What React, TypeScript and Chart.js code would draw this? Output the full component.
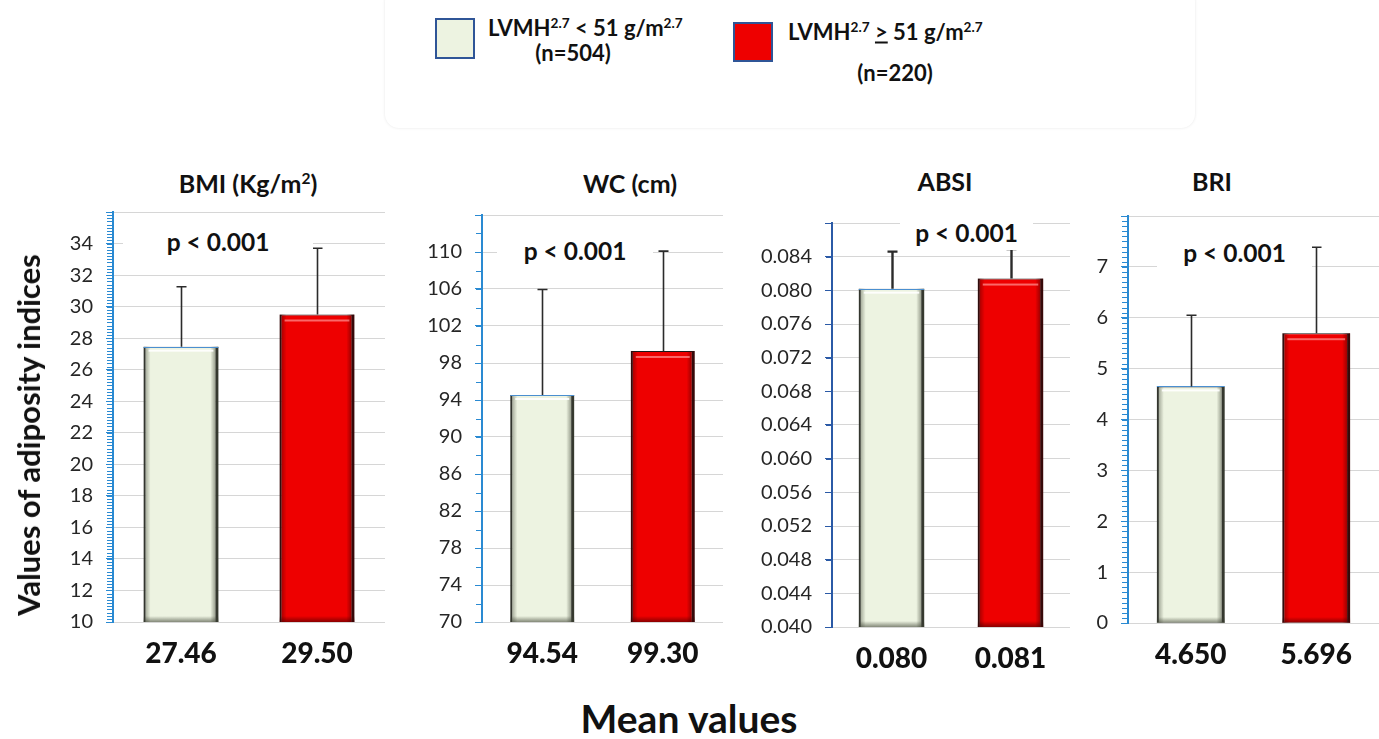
import React, { useEffect, useRef } from "react";
import { Chart, registerables } from "chart.js";

Chart.register(...registerables);

// ---------------- DATA ----------------
const groupLabels = ["LVMH2.7 < 51 g/m2.7 (n=504)", "LVMH2.7 ≥ 51 g/m2.7 (n=220)"];
const panelTitles = ["BMI (Kg/m²)", "WC (cm)", "ABSI", "BRI"];
const pValueLabels = ["p < 0.001", "p < 0.001", "p < 0.001", "p < 0.001"];

const bmiMeans = [27.46, 29.5];
const bmiSD = [3.8, 4.2];
const wcMeans = [94.54, 99.3];
const wcSD = [11.4, 10.8];
const absiMeans = [0.0802, 0.0814];
const absiSD = [0.0044, 0.0035];
const briMeans = [4.65, 5.696];
const briSD = [1.4, 1.69];

const bmiTicks = [10, 12, 14, 16, 18, 20, 22, 24, 26, 28, 30, 32, 34];
const wcTicks = [70, 74, 78, 82, 86, 90, 94, 98, 102, 106, 110];
const absiTicks = [0.04, 0.044, 0.048, 0.052, 0.056, 0.06, 0.064, 0.068, 0.072, 0.076, 0.08, 0.084];
const briTicks = [0, 1, 2, 3, 4, 5, 6, 7];

const bmiMax = 36;
const wcMax = 114;
const absiMax = 0.088;
const briMax = 8;

const bmiMinorStep = 0.2;
const wcMinorStep = 2;
const absiMinorStep = 0.004;
const briMinorStep = 0.1;

const tickDecimals = [0, 0, 3, 0];
const meanDecimals = [2, 2, 3, 3];

// ---------------- LAYOUT / STYLE ----------------
const FONT = "Lato, 'Open Sans', 'DejaVu Sans', sans-serif";
const LIGHT = "#edf3e1";
const RED = "#ee0000";

type Geo = { l: number; r: number; t: number; b: number; yW: number; xH: number; barPct: number; axis: string; err: number };
const geos: Geo[] = [
  { l: 113, r: 385, t: 212, b: 622, yW: 70, xH: 70, barPct: 0.55, axis: "#2a8ad2", err: 1.6 },
  { l: 482, r: 723, t: 215, b: 622, yW: 70, xH: 70, barPct: 0.53, axis: "#2a8ad2", err: 1.6 },
  { l: 832, r: 1070, t: 223, b: 627, yW: 76, xH: 65, barPct: 0.55, axis: "#2b5aa6", err: 2.4 },
  { l: 1128, r: 1379, t: 216, b: 623, yW: 46, xH: 69, barPct: 0.54, axis: "#2a8ad2", err: 1.6 },
];
const TOPPAD = 12;

const titleBoxes = [
  { x: 137, y: 150, w: 221, h: 55, cx: 248, cy: 183 },
  { x: 452, y: 150, w: 356, h: 52, cx: 630, cy: 183 },
  { x: 849, y: 150, w: 192, h: 55, cx: 945, cy: 181 },
  { x: 1108, y: 150, w: 210, h: 55, cx: 1212, cy: 181 },
];
const pBoxes = [
  { x: 123, y: 214, w: 190, h: 48, cy: 241 },
  { x: 497, y: 227, w: 156, h: 48, cy: 250 },
  { x: 900, y: 212, w: 133, h: 38, cy: 232 },
  { x: 1157, y: 223, w: 155, h: 55, cy: 252 },
];

const panels = [
  { means: bmiMeans, sd: bmiSD, ticks: bmiTicks, max: bmiMax, minor: bmiMinorStep },
  { means: wcMeans, sd: wcSD, ticks: wcTicks, max: wcMax, minor: wcMinorStep },
  { means: absiMeans, sd: absiSD, ticks: absiTicks, max: absiMax, minor: absiMinorStep },
  { means: briMeans, sd: briSD, ticks: briTicks, max: briMax, minor: briMinorStep },
];

// ---------------- PLUGINS ----------------
const bevelPlugin = {
  id: "bevel",
  afterDatasetsDraw(chart: any) {
    const ctx = chart.ctx;
    const area = chart.chartArea;
    const meta = chart.getDatasetMeta(0);
    ctx.save();
    ctx.beginPath();
    ctx.rect(area.left, area.top, area.right - area.left, area.bottom - area.top);
    ctx.clip();
    meta.data.forEach((bar: any, i: number) => {
      const { x, y, width } = bar.getProps(["x", "y", "width"], true);
      const l = x - width / 2;
      const r = x + width / 2;
      const t = y;
      const b = area.bottom;
      const dark = i === 0 ? "rgba(60,65,50," : "rgba(70,0,0,";
      let g = ctx.createLinearGradient(l, 0, l + 7, 0);
      g.addColorStop(0, dark + "0.55)");
      g.addColorStop(1, dark + "0)");
      ctx.fillStyle = g;
      ctx.fillRect(l, t, 7, b - t);
      g = ctx.createLinearGradient(r, 0, r - 8, 0);
      g.addColorStop(0, dark + "0.75)");
      g.addColorStop(1, dark + "0)");
      ctx.fillStyle = g;
      ctx.fillRect(r - 8, t, 8, b - t);
      g = ctx.createLinearGradient(0, b, 0, b - 6);
      g.addColorStop(0, dark + "0.6)");
      g.addColorStop(1, dark + "0)");
      ctx.fillStyle = g;
      ctx.fillRect(l, b - 6, r - l, 6);
      ctx.fillStyle = i === 0 ? "rgba(255,255,255,0.9)" : "rgba(255,150,150,0.7)";
      ctx.fillRect(l + 5, t + (i === 0 ? 3 : 5), r - l - 10, 2);
      if (i === 0) {
        ctx.strokeStyle = "#4a8fd0";
        ctx.lineWidth = 1;
        ctx.beginPath();
        ctx.moveTo(l, Math.round(t) + 0.5);
        ctx.lineTo(r, Math.round(t) + 0.5);
        ctx.stroke();
      }
    });
    ctx.restore();
  },
};

const errorBarPlugin = {
  id: "errorBars",
  afterDatasetsDraw(chart: any, _a: any, opts: any) {
    const sd: number[] = opts.sd || [];
    const ctx = chart.ctx;
    const ys = chart.scales.y;
    const meta = chart.getDatasetMeta(0);
    const data = chart.data.datasets[0].data as number[];
    ctx.save();
    ctx.strokeStyle = "#2b2b2b";
    ctx.lineWidth = opts.width || 1.6;
    meta.data.forEach((bar: any, i: number) => {
      const { x, y } = bar.getProps(["x", "y"], true);
      const top = ys.getPixelForValue(data[i] + sd[i]);
      const px = Math.round(x) + 0.5;
      ctx.beginPath();
      ctx.moveTo(px, y);
      ctx.lineTo(px, top);
      ctx.moveTo(px - 5, top);
      ctx.lineTo(px + 5, top);
      ctx.stroke();
    });
    ctx.restore();
  },
};

const minorTickPlugin = {
  id: "minorTicks",
  afterDraw(chart: any, _a: any, opts: any) {
    const step: number = opts.step;
    if (!step) return;
    const ys = chart.scales.y;
    const ctx = chart.ctx;
    const x0 = chart.chartArea.left;
    const n = Math.round((ys.max - ys.min) / step);
    ctx.save();
    ctx.strokeStyle = opts.color;
    ctx.lineWidth = 1;
    for (let i = 0; i <= n; i++) {
      const v = ys.min + i * step;
      const py = Math.round(ys.getPixelForValue(v)) + 0.5;
      ctx.beginPath();
      ctx.moveTo(x0 - 6, py);
      ctx.lineTo(x0, py);
      ctx.stroke();
    }
    ctx.restore();
  },
};

function Panel({ idx }: { idx: number }) {
  const ref = useRef<HTMLCanvasElement | null>(null);
  const g = geos[idx];
  const p = panels[idx];
  const left = g.l - g.yW;
  const top = g.t - TOPPAD;
  const width = g.r - left;
  const height = g.b + g.xH - top;

  useEffect(() => {
    if (!ref.current) return;
    const labels = p.means.map((m) => m.toFixed(meanDecimals[idx]));
    const chart = new Chart(ref.current, {
      type: "bar",
      data: {
        labels,
        datasets: [
          {
            label: panelTitles[idx],
            data: p.means,
            backgroundColor: [LIGHT, RED],
            borderColor: ["#2a2a2a", "#1a1a1a"],
            borderWidth: { left: 2, right: 3, top: 1, bottom: 0 } as any,
            borderSkipped: false,
            barPercentage: g.barPct,
            categoryPercentage: 1,
          },
        ],
      },
      options: {
        responsive: false,
        maintainAspectRatio: false,
        animation: false,
        devicePixelRatio: 1,
        layout: { padding: { top: TOPPAD, right: 0, left: 0, bottom: 0 } },
        plugins: {
          legend: { display: false },
          tooltip: { enabled: false },
          title: { display: false },
          errorBars: { sd: p.sd, width: g.err },
          minorTicks: { step: p.minor, color: g.axis },
        } as any,
        scales: {
          x: {
            type: "category",
            offset: true,
            grid: { display: false, drawTicks: false },
            border: { display: false },
            ticks: {
              color: "#111",
              padding: 15,
              font: { family: FONT, size: 28, weight: 900 as any },
              maxRotation: 0,
            },
            afterFit: (s: any) => {
              s.height = g.xH;
              s.paddingLeft = 0;
              s.paddingRight = 0;
            },
          },
          y: {
            min: p.ticks[0],
            max: p.max,
            afterBuildTicks: (s: any) => {
              s.ticks = [...p.ticks, p.max].map((v) => ({ value: v }));
            },
            grid: {
              color: "#d6d6d6",
              lineWidth: 1,
              drawTicks: true,
              tickLength: 7,
              tickColor: g.axis,
            },
            border: { display: true, color: g.axis, width: 2 },
            ticks: {
              autoSkip: false,
              padding: 13,
              color: "#262626",
              font: { family: FONT, size: 20 },
              callback: (value: any, index: number) =>
                index < p.ticks.length ? Number(value).toFixed(tickDecimals[idx]) : "",
            },
            afterFit: (s: any) => {
              s.width = g.yW;
              s.paddingTop = 0;
              s.paddingBottom = 0;
            },
          },
        },
      },
      plugins: [bevelPlugin, errorBarPlugin, minorTickPlugin],
    });
    return () => chart.destroy();
  }, []);

  return (
    <canvas
      ref={ref}
      width={width}
      height={height}
      style={{ position: "absolute", left, top, width, height }}
    />
  );
}

const boldText: React.CSSProperties = {
  fontFamily: FONT,
  fontWeight: 700,
  color: "#111",
  whiteSpace: "nowrap",
  position: "absolute",
};

export default function App() {
  useEffect(() => {
    document.body.style.margin = "0";
  }, []);
  const sup: React.CSSProperties = { fontSize: "0.62em", verticalAlign: "0.55em" };
  return (
    <div
      style={{
        position: "fixed",
        left: 0,
        top: 0,
        width: 1379,
        height: 739,
        overflow: "hidden",
        background: "#ffffff",
      }}
    >
      {/* Legend box */}
      <div
        style={{
          position: "absolute",
          left: 385,
          top: -12,
          width: 810,
          height: 140,
          background: "#fff",
          borderRadius: 14,
          boxShadow: "0 0 3px rgba(0,0,0,0.10)",
        }}
      />
      <div style={{ position: "absolute", left: 435, top: 18, width: 36, height: 37, background: LIGHT, border: "2px solid #2f5597" }} />
      <div style={{ ...boldText, left: 488, top: 27, fontSize: 22, transform: "translateY(-50%)" }} title={groupLabels[0]}>
        LVMH<span style={sup}>2.7</span> &lt; 51 g/m<span style={sup}>2.7</span>
      </div>
      <div style={{ ...boldText, left: 573, top: 52, fontSize: 22, transform: "translate(-50%,-50%)" }}>(n=504)</div>
      <div style={{ position: "absolute", left: 733, top: 22, width: 36, height: 36, background: RED, border: "2px solid #2f5597" }} />
      <div style={{ ...boldText, left: 788, top: 31, fontSize: 22, transform: "translateY(-50%)" }} title={groupLabels[1]}>
        LVMH<span style={sup}>2.7</span> <span style={{ textDecoration: "underline" }}>&gt;</span> 51 g/m<span style={sup}>2.7</span>
      </div>
      <div style={{ ...boldText, left: 895, top: 72, fontSize: 22, transform: "translate(-50%,-50%)" }}>(n=220)</div>

      {[0, 1, 2, 3].map((i) => (
        <Panel key={i} idx={i} />
      ))}

      {titleBoxes.map((b, i) => (
        <div
          key={"tt" + i}
          style={{ ...boldText, left: b.cx, top: b.cy, fontSize: 25, transform: "translate(-50%,-50%)" }}
        >
          {i === 0 ? (
            <>
              BMI (Kg/m<span style={sup}>2</span>)
            </>
          ) : (
            panelTitles[i]
          )}
        </div>
      ))}

      {/* p-value boxes */}
      {pBoxes.map((b, i) => (
        <div key={"pb" + i} style={{ position: "absolute", left: b.x, top: b.y, width: b.w, height: b.h, background: "#fff" }}>
          <div
            style={{
              ...boldText,
              left: b.w / 2,
              top: b.cy - b.y,
              fontSize: 24.5,
              transform: "translate(-50%,-50%)",
            }}
          >
            {pValueLabels[i]}
          </div>
        </div>
      ))}

      {/* Axis titles */}
      <div
        style={{
          ...boldText,
          left: 28,
          top: 435,
          fontSize: 31,
          transform: "translate(-50%,-50%) rotate(-90deg)",
        }}
      >
        Values of adiposity indices
      </div>
      <div style={{ ...boldText, left: 689, top: 718, fontSize: 39, transform: "translate(-50%,-50%)" }}>Mean values</div>
    </div>
  );
}
